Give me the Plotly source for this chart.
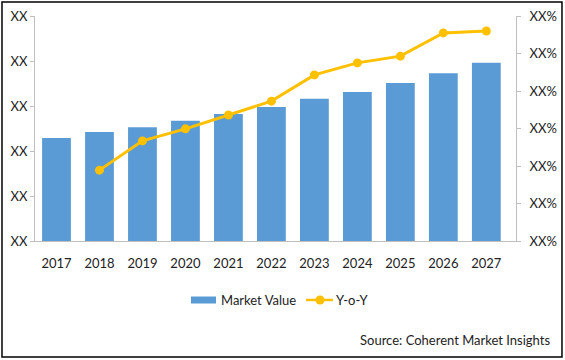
import plotly.graph_objects as go

years = ["2017", "2018", "2019", "2020", "2021", "2022", "2023", "2024", "2025", "2026", "2027"]
market_value = [2.29, 2.42, 2.53, 2.67, 2.82, 2.98, 3.16, 3.31, 3.51, 3.73, 3.96]
yoy_years = ["2018", "2019", "2020", "2021", "2022", "2023", "2024", "2025", "2026", "2027"]
yoy = [1.89, 2.67, 2.99, 3.36, 3.73, 4.43, 4.75, 4.93, 5.55, 5.60]
left_ticks = [0, 1, 2, 3, 4, 5]
left_labels = ["XX"] * 6
right_ticks = [0, 1, 2, 3, 4, 5, 6]
right_labels = ["XX%"] * 7

FONT = "Lato, Carlito, Calibri, sans-serif"
BLUE = "#5B9BD5"
GOLD = "#FFC000"

fig = go.Figure()
fig.add_trace(go.Bar(x=years, y=market_value, name="Market Value", showlegend=False,
                     marker=dict(color=BLUE, line=dict(width=0)), width=0.67))
fig.add_trace(go.Scatter(x=yoy_years, y=yoy, name="Y-o-Y", yaxis="y2", mode="lines+markers",
                         showlegend=False,
                         line=dict(color=GOLD, width=3),
                         marker=dict(color=GOLD, size=9, symbol="circle")))

# custom legend (paper coords) + border
shapes = [
    dict(type="rect", xref="paper", yref="paper", x0=-0.0686, x1=1.0956,
         y0=-0.516, y1=1.062, line=dict(color="black", width=1.5)),
    dict(type="rect", xref="paper", yref="paper", x0=0.3243, x1=0.3763,
         y0=-0.2778, y1=-0.2467, fillcolor=BLUE, line=dict(width=0)),
    dict(type="line", xref="paper", yref="paper", x0=0.5634, x1=0.6195,
         y0=-0.262, y1=-0.262, line=dict(color=GOLD, width=2.5)),
    dict(type="circle", xref="paper", yref="paper", x0=0.5925 - 0.0094, x1=0.5925 + 0.0094,
         y0=-0.262 - 0.02, y1=-0.262 + 0.02, fillcolor=GOLD, line=dict(width=0)),
]

annotations = [
    dict(text="Market Value", xref="paper", yref="paper", x=0.3825, y=-0.262,
         xanchor="left", yanchor="middle", showarrow=False),
    dict(text="Y-o-Y", xref="paper", yref="paper", x=0.6216, y=-0.262,
         xanchor="left", yanchor="middle", showarrow=False),
    dict(text="Source: Coherent Market Insights", xref="paper", yref="paper",
         x=1.0748, y=-0.44, xanchor="right", yanchor="middle", showarrow=False),
]

fig.update_layout(
    width=565, height=360,
    margin=dict(l=35, r=49, t=16, b=119, autoexpand=False),
    paper_bgcolor="white", plot_bgcolor="white",
    font=dict(family=FONT, size=13, color="#222"),
    bargap=0.33,
    xaxis=dict(type="category", showline=True, linecolor="#BFBFBF", linewidth=1,
               ticks="", showgrid=False, ticklabelstandoff=10, automargin=False),
    yaxis=dict(range=[0, 5], tickvals=left_ticks, ticktext=left_labels, showgrid=False,
               showline=True, linecolor="#BFBFBF", ticks="outside", ticklen=4,
               tickcolor="#BFBFBF", zeroline=False, ticklabelstandoff=0, automargin=False),
    yaxis2=dict(range=[0, 6], tickvals=right_ticks, ticktext=right_labels, overlaying="y",
                side="right", showgrid=False, showline=True, linecolor="#BFBFBF",
                ticks="outside", ticklen=4, tickcolor="#BFBFBF", zeroline=False,
                ticklabelstandoff=6, automargin=False),
    showlegend=False,
    shapes=shapes,
    annotations=annotations,
)

fig.write_html("out.html", config={"displayModeBar": False},
               post_script="document.body.style.margin='0px';document.body.style.overflow='hidden';")
